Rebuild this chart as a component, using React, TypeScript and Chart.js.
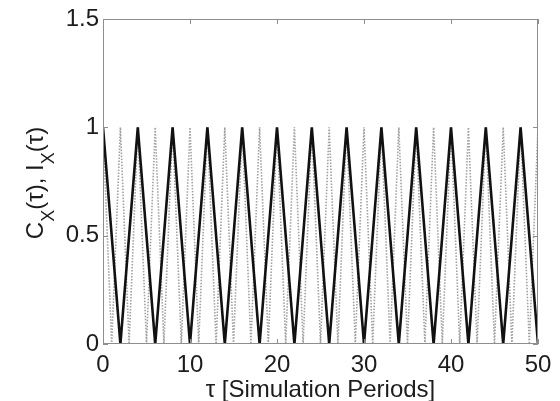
import React, { useEffect, useRef } from "react";
import { Chart, registerables } from "chart.js";

Chart.register(...registerables);

// tau positions and values of C_X(tau) (solid black)
const tauC = [0, 2, 4, 6, 8, 10, 12, 14, 16, 18, 20, 22, 24, 26, 28, 30, 32, 34, 36, 38, 40, 42, 44, 46, 48, 50];
const cValues = [1, 0, 1, 0, 1, 0, 1, 0, 1, 0, 1, 0, 1, 0, 1, 0, 1, 0, 1, 0, 1, 0, 1, 0, 1, 0];

// tau positions and values of I_X(tau) (dotted gray)
const tauI = [0, 1, 2, 3, 4, 5, 6, 7, 8, 9, 10, 11, 12, 13, 14, 15, 16, 17, 18, 19, 20, 21, 22, 23, 24, 25, 26, 27, 28, 29, 30, 31, 32, 33, 34, 35, 36, 37, 38, 39, 40, 41, 42, 43, 44, 45, 46, 47, 48, 49, 50];
const iValues = [1, 0, 1, 0, 1, 0, 1, 0, 1, 0, 1, 0, 1, 0, 1, 0, 1, 0, 1, 0, 1, 0, 1, 0, 1, 0, 1, 0, 1, 0, 1, 0, 1, 0, 1, 0, 1, 0, 1, 0, 1, 0, 1, 0, 1, 0, 1, 0, 1, 0, 1];

const xTicks = [0, 10, 20, 30, 40, 50];
const yTicks = [0, 0.5, 1, 1.5];

const xTitle = "τ [Simulation Periods]";
const yTitleParts = [
  { text: "C", sub: false },
  { text: "X", sub: true },
  { text: "(τ), I", sub: false },
  { text: "X", sub: true },
  { text: "(τ)", sub: false },
];

const FONT = '"Liberation Sans", Arial, Helvetica, sans-serif';
const TEXT_COLOR = "#1c1c1c";
const FRAME_COLOR = "#8e8e8e";

const framePlugin = {
  id: "matlabFrame",
  afterDatasetsDraw(chart: any) {
    const { ctx, chartArea } = chart;
    const { left, right, top, bottom } = chartArea;
    const xs = chart.scales.x;
    const ys = chart.scales.y;
    ctx.save();
    ctx.strokeStyle = FRAME_COLOR;
    ctx.lineWidth = 1;
    ctx.strokeRect(Math.round(left) + 0.5, Math.round(top) + 0.5, Math.round(right - left) - 1, Math.round(bottom - top) - 1);
    const tl = 5;
    ctx.beginPath();
    xTicks.forEach((v) => {
      const px = Math.round(xs.getPixelForValue(v)) + 0.5;
      ctx.moveTo(px, bottom);
      ctx.lineTo(px, bottom - tl);
      ctx.moveTo(px, top);
      ctx.lineTo(px, top + tl);
    });
    yTicks.forEach((v) => {
      const py = Math.round(ys.getPixelForValue(v)) + 0.5;
      ctx.moveTo(left, py);
      ctx.lineTo(left + tl, py);
      ctx.moveTo(right, py);
      ctx.lineTo(right - tl, py);
    });
    ctx.stroke();
    ctx.restore();
  },
  afterDraw(chart: any) {
    const { ctx, chartArea } = chart;
    ctx.save();
    ctx.fillStyle = TEXT_COLOR;
    // x title
    ctx.font = `24px ${FONT}`;
    ctx.textAlign = "center";
    ctx.textBaseline = "alphabetic";
    ctx.fillText(xTitle, (chartArea.left + chartArea.right) / 2, 397);
    // y title, rotated, with subscripts
    const mainFont = `24px ${FONT}`;
    const subFont = `18px ${FONT}`;
    let total = 0;
    const widths = yTitleParts.map((p) => {
      ctx.font = p.sub ? subFont : mainFont;
      const w = ctx.measureText(p.text).width;
      total += w;
      return w;
    });
    const cy = 183;
    const baseX = 43;
    ctx.translate(baseX, cy);
    ctx.rotate(-Math.PI / 2);
    ctx.textAlign = "left";
    let pos = -total / 2;
    yTitleParts.forEach((p, i) => {
      ctx.font = p.sub ? subFont : mainFont;
      ctx.fillText(p.text, pos, p.sub ? 11 : 0);
      pos += widths[i];
    });
    ctx.restore();
  },
};

export default function App() {
  const canvasRef = useRef<HTMLCanvasElement | null>(null);

  useEffect(() => {
    document.body.style.margin = "0";
    const canvas = canvasRef.current;
    if (!canvas) return;
    const chart = new Chart(canvas, {
      type: "line",
      data: {
        datasets: [
          {
            label: "C_X(τ)",
            data: tauC.map((t, i) => ({ x: t, y: cValues[i] })),
            borderColor: "#111111",
            borderWidth: 2.6,
            pointRadius: 0,
            tension: 0,
            fill: false,
            order: 0,
          },
          {
            label: "I_X(τ)",
            data: tauI.map((t, i) => ({ x: t, y: iValues[i] })),
            borderColor: "#a0a0a0",
            borderWidth: 1.6,
            borderDash: [1.5, 1.5],
            pointRadius: 0,
            tension: 0,
            fill: false,
            order: 1,
          },
        ],
      },
      options: {
        animation: false,
        responsive: true,
        maintainAspectRatio: false,
        layout: { padding: { top: 19, right: 22, left: 0, bottom: 0 } },
        plugins: {
          legend: { display: false },
          tooltip: { enabled: false },
        },
        scales: {
          x: {
            type: "linear",
            min: 0,
            max: 50,
            afterBuildTicks: (s: any) => {
              s.ticks = xTicks.map((v) => ({ value: v }));
            },
            afterFit: (s: any) => {
              s.height = 57;
            },
            grid: { display: false, drawTicks: false },
            border: { display: false },
            ticks: {
              padding: 7,
              color: TEXT_COLOR,
              maxRotation: 0,
              autoSkip: false,
              font: { family: FONT, size: 24 },
              callback: (v: any) => String(v),
            },
          },
          y: {
            type: "linear",
            min: 0,
            max: 1.5,
            afterBuildTicks: (s: any) => {
              s.ticks = yTicks.map((v) => ({ value: v }));
            },
            afterFit: (s: any) => {
              s.width = 103;
            },
            grid: { display: false, drawTicks: false },
            border: { display: false },
            ticks: {
              padding: 4,
              color: TEXT_COLOR,
              autoSkip: false,
              font: { family: FONT, size: 24 },
              callback: (v: any) => String(v),
            },
          },
        },
      },
      plugins: [framePlugin],
    });
    return () => chart.destroy();
  }, []);

  return (
    <div style={{ position: "relative", width: "560px", height: "401px", background: "#ffffff" }}>
      <canvas ref={canvasRef} />
    </div>
  );
}
